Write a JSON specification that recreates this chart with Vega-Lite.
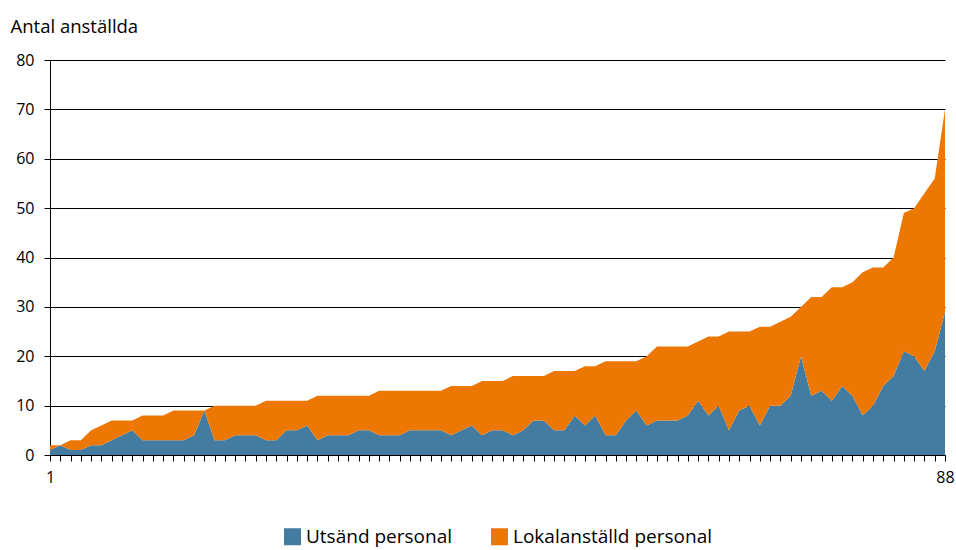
{
  "$schema": "https://vega.github.io/schema/vega-lite/v6.json",
  "width": 895,
  "height": 395,
  "autosize": "none",
  "padding": {"left": 50, "top": 60, "right": 11, "bottom": 95},
  "background": "white",
  "config": {
    "font": "Open Sans",
    "view": {"stroke": null},
    "legend": {"layout": {"bottom": {"anchor": "middle"}}}
  },
  "data": {
    "values": [
      {"nr":1,"Utsänd personal":1,"Lokalanställd personal":1},
      {"nr":2,"Utsänd personal":2,"Lokalanställd personal":0},
      {"nr":3,"Utsänd personal":1,"Lokalanställd personal":2},
      {"nr":4,"Utsänd personal":1,"Lokalanställd personal":2},
      {"nr":5,"Utsänd personal":2,"Lokalanställd personal":3},
      {"nr":6,"Utsänd personal":2,"Lokalanställd personal":4},
      {"nr":7,"Utsänd personal":3,"Lokalanställd personal":4},
      {"nr":8,"Utsänd personal":4,"Lokalanställd personal":3},
      {"nr":9,"Utsänd personal":5,"Lokalanställd personal":2},
      {"nr":10,"Utsänd personal":3,"Lokalanställd personal":5},
      {"nr":11,"Utsänd personal":3,"Lokalanställd personal":5},
      {"nr":12,"Utsänd personal":3,"Lokalanställd personal":5},
      {"nr":13,"Utsänd personal":3,"Lokalanställd personal":6},
      {"nr":14,"Utsänd personal":3,"Lokalanställd personal":6},
      {"nr":15,"Utsänd personal":4,"Lokalanställd personal":5},
      {"nr":16,"Utsänd personal":9,"Lokalanställd personal":0},
      {"nr":17,"Utsänd personal":3,"Lokalanställd personal":7},
      {"nr":18,"Utsänd personal":3,"Lokalanställd personal":7},
      {"nr":19,"Utsänd personal":4,"Lokalanställd personal":6},
      {"nr":20,"Utsänd personal":4,"Lokalanställd personal":6},
      {"nr":21,"Utsänd personal":4,"Lokalanställd personal":6},
      {"nr":22,"Utsänd personal":3,"Lokalanställd personal":8},
      {"nr":23,"Utsänd personal":3,"Lokalanställd personal":8},
      {"nr":24,"Utsänd personal":5,"Lokalanställd personal":6},
      {"nr":25,"Utsänd personal":5,"Lokalanställd personal":6},
      {"nr":26,"Utsänd personal":6,"Lokalanställd personal":5},
      {"nr":27,"Utsänd personal":3,"Lokalanställd personal":9},
      {"nr":28,"Utsänd personal":4,"Lokalanställd personal":8},
      {"nr":29,"Utsänd personal":4,"Lokalanställd personal":8},
      {"nr":30,"Utsänd personal":4,"Lokalanställd personal":8},
      {"nr":31,"Utsänd personal":5,"Lokalanställd personal":7},
      {"nr":32,"Utsänd personal":5,"Lokalanställd personal":7},
      {"nr":33,"Utsänd personal":4,"Lokalanställd personal":9},
      {"nr":34,"Utsänd personal":4,"Lokalanställd personal":9},
      {"nr":35,"Utsänd personal":4,"Lokalanställd personal":9},
      {"nr":36,"Utsänd personal":5,"Lokalanställd personal":8},
      {"nr":37,"Utsänd personal":5,"Lokalanställd personal":8},
      {"nr":38,"Utsänd personal":5,"Lokalanställd personal":8},
      {"nr":39,"Utsänd personal":5,"Lokalanställd personal":8},
      {"nr":40,"Utsänd personal":4,"Lokalanställd personal":10},
      {"nr":41,"Utsänd personal":5,"Lokalanställd personal":9},
      {"nr":42,"Utsänd personal":6,"Lokalanställd personal":8},
      {"nr":43,"Utsänd personal":4,"Lokalanställd personal":11},
      {"nr":44,"Utsänd personal":5,"Lokalanställd personal":10},
      {"nr":45,"Utsänd personal":5,"Lokalanställd personal":10},
      {"nr":46,"Utsänd personal":4,"Lokalanställd personal":12},
      {"nr":47,"Utsänd personal":5,"Lokalanställd personal":11},
      {"nr":48,"Utsänd personal":7,"Lokalanställd personal":9},
      {"nr":49,"Utsänd personal":7,"Lokalanställd personal":9},
      {"nr":50,"Utsänd personal":5,"Lokalanställd personal":12},
      {"nr":51,"Utsänd personal":5,"Lokalanställd personal":12},
      {"nr":52,"Utsänd personal":8,"Lokalanställd personal":9},
      {"nr":53,"Utsänd personal":6,"Lokalanställd personal":12},
      {"nr":54,"Utsänd personal":8,"Lokalanställd personal":10},
      {"nr":55,"Utsänd personal":4,"Lokalanställd personal":15},
      {"nr":56,"Utsänd personal":4,"Lokalanställd personal":15},
      {"nr":57,"Utsänd personal":7,"Lokalanställd personal":12},
      {"nr":58,"Utsänd personal":9,"Lokalanställd personal":10},
      {"nr":59,"Utsänd personal":6,"Lokalanställd personal":14},
      {"nr":60,"Utsänd personal":7,"Lokalanställd personal":15},
      {"nr":61,"Utsänd personal":7,"Lokalanställd personal":15},
      {"nr":62,"Utsänd personal":7,"Lokalanställd personal":15},
      {"nr":63,"Utsänd personal":8,"Lokalanställd personal":14},
      {"nr":64,"Utsänd personal":11,"Lokalanställd personal":12},
      {"nr":65,"Utsänd personal":8,"Lokalanställd personal":16},
      {"nr":66,"Utsänd personal":10,"Lokalanställd personal":14},
      {"nr":67,"Utsänd personal":5,"Lokalanställd personal":20},
      {"nr":68,"Utsänd personal":9,"Lokalanställd personal":16},
      {"nr":69,"Utsänd personal":10,"Lokalanställd personal":15},
      {"nr":70,"Utsänd personal":6,"Lokalanställd personal":20},
      {"nr":71,"Utsänd personal":10,"Lokalanställd personal":16},
      {"nr":72,"Utsänd personal":10,"Lokalanställd personal":17},
      {"nr":73,"Utsänd personal":12,"Lokalanställd personal":16},
      {"nr":74,"Utsänd personal":20,"Lokalanställd personal":10},
      {"nr":75,"Utsänd personal":12,"Lokalanställd personal":20},
      {"nr":76,"Utsänd personal":13,"Lokalanställd personal":19},
      {"nr":77,"Utsänd personal":11,"Lokalanställd personal":23},
      {"nr":78,"Utsänd personal":14,"Lokalanställd personal":20},
      {"nr":79,"Utsänd personal":12,"Lokalanställd personal":23},
      {"nr":80,"Utsänd personal":8,"Lokalanställd personal":29},
      {"nr":81,"Utsänd personal":10,"Lokalanställd personal":28},
      {"nr":82,"Utsänd personal":14,"Lokalanställd personal":24},
      {"nr":83,"Utsänd personal":16,"Lokalanställd personal":24},
      {"nr":84,"Utsänd personal":21,"Lokalanställd personal":28},
      {"nr":85,"Utsänd personal":20,"Lokalanställd personal":30},
      {"nr":86,"Utsänd personal":17,"Lokalanställd personal":36},
      {"nr":87,"Utsänd personal":21,"Lokalanställd personal":35},
      {"nr":88,"Utsänd personal":29,"Lokalanställd personal":41}
    ]
  },
  "transform": [
    {"fold": ["Utsänd personal", "Lokalanställd personal"], "as": ["typ", "antal"]}
  ],
  "mark": {"type": "area", "interpolate": "linear"},
  "encoding": {
    "x": {
      "field": "nr",
      "type": "quantitative",
      "scale": {"domain": [1, 88], "nice": false, "zero": false},
      "axis": {
        "title": null,
        "values": [1,2,3,4,5,6,7,8,9,10,11,12,13,14,15,16,17,18,19,20,21,22,23,24,25,26,27,28,29,30,31,32,33,34,35,36,37,38,39,40,41,42,43,44,45,46,47,48,49,50,51,52,53,54,55,56,57,58,59,60,61,62,63,64,65,66,67,68,69,70,71,72,73,74,75,76,77,78,79,80,81,82,83,84,85,86,87,88],
        "labelExpr": "datum.value == 1 || datum.value == 88 ? datum.label : ''",
        "labelOverlap": false,
        "labelFlush": false,
        "grid": false,
        "domainColor": "#000000",
        "domainWidth": 1,
        "tickColor": "#000000",
        "tickSize": 6,
        "labelFontSize": 16,
        "labelColor": "#000000",
        "labelPadding": 8
      }
    },
    "y": {
      "field": "antal",
      "type": "quantitative",
      "stack": "zero",
      "scale": {"domain": [0, 80], "nice": false},
      "axis": {
        "values": [0,10,20,30,40,50,60,70,80],
        "title": "Antal anställda",
        "titleAngle": 0,
        "titleAlign": "left",
        "titleBaseline": "alphabetic",
        "titleX": -40,
        "titleY": -28,
        "titleFontSize": 18.5,
        "titleFontWeight": "normal",
        "titleColor": "#000000",
        "grid": true,
        "gridColor": "#000000",
        "gridWidth": 1,
        "domainColor": "#000000",
        "tickColor": "#000000",
        "tickSize": 6,
        "labelFontSize": 16,
        "labelColor": "#000000",
        "labelPadding": 10
      }
    },
    "color": {
      "field": "typ",
      "type": "nominal",
      "sort": ["Utsänd personal", "Lokalanställd personal"],
      "scale": {"domain": ["Utsänd personal", "Lokalanställd personal"], "range": ["#447ca1", "#ed7703"]},
      "legend": {
        "title": null,
        "orient": "bottom",
        "direction": "horizontal",
        "symbolType": "square",
        "symbolSize": 290,
        "symbolStrokeWidth": 0,
        "labelFontSize": 19,
        "labelLimit": 400,
        "labelColor": "#000000",
        "columnPadding": 38,
        "offset": 42
      }
    },
    "order": {"field": "typ", "sort": "descending"}
  }
}
